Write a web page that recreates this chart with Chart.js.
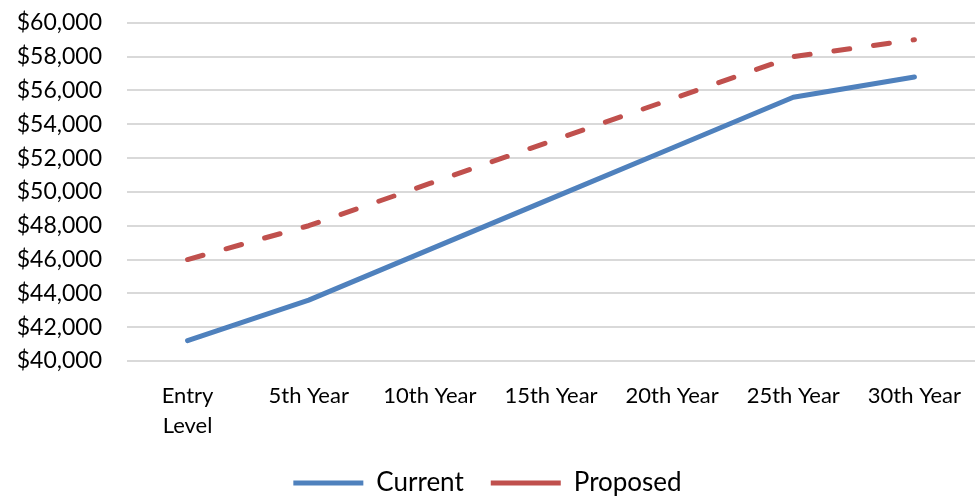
<!doctype html>
<html lang="en">
<head>
  <meta charset="utf-8">
  <title>Salary Schedule</title>
  <script src="https://cdn.jsdelivr.net/npm/chart.js@4.4.0/dist/chart.umd.min.js"></script>
  <style>
    html, body { margin: 0; padding: 0; background: #fff; }
    #wrap { width: 977px; height: 497px; }
  </style>
</head>
<body>
  <div id="wrap"><canvas id="salaryChart" width="977" height="497"></canvas></div>
  <script>
    const categories = [['Entry', 'Level'], '5th Year', '10th Year', '15th Year', '20th Year', '25th Year', '30th Year'];
    const current = [41200, 43600, 46600, 49600, 52600, 55600, 56800];
    const proposed = [46000, 48000, 50500, 53000, 55500, 58000, 59000];
    const yMin = 40000;
    const yMax = 60000;
    const yStep = 2000;

    const fontFamily = 'Lato, "Open Sans", sans-serif';

    const ctx = document.getElementById('salaryChart').getContext('2d');
    const salaryChart = new Chart(ctx, {
      type: 'line',
      data: {
        labels: categories,
        datasets: [{
          label: 'Current',
          data: current,
          borderColor: '#4F81BD',
          backgroundColor: '#4F81BD',
          borderWidth: 5,
          borderCapStyle: 'round',
          borderJoinStyle: 'round',
          pointRadius: 0,
          tension: 0,
        }, {
          label: 'Proposed',
          data: proposed,
          borderColor: '#C0504D',
          backgroundColor: '#C0504D',
          borderWidth: 5,
          borderDash: [16, 24],
          borderCapStyle: 'round',
          borderJoinStyle: 'round',
          pointRadius: 0,
          tension: 0,
        }],
      },
      options: {
        responsive: false,
        animation: false,
        layout: { padding: { top: 0, right: 2, bottom: 0, left: 0 } },
        plugins: {
          tooltip: { enabled: false },
          legend: {
            position: 'bottom',
            maxHeight: 54,
            labels: {
              color: '#000',
              font: { family: fontFamily, size: 26 },
              usePointStyle: true,
              pointStyle: 'line',
              pointStyleWidth: 70,
              boxHeight: 5,
              padding: 27,
            },
          },
        },
        scales: {
          x: {
            offset: true,
            grid: { display: false },
            border: { display: false },
            ticks: {
              color: '#000',
              font: { family: fontFamily, size: 22, lineHeight: 30 / 22 },
              padding: 12,
              maxRotation: 0,
              autoSkip: false,
            },
            afterFit: function(axis) { axis.height = 82; },
          },
          y: {
            min: yMin,
            max: yMax,
            grid: {
              color: '#d9d9d9',
              lineWidth: 2,
              drawTicks: true,
              tickLength: 16,
              tickColor: 'rgba(0,0,0,0)',
            },
            border: { display: false },
            ticks: {
              stepSize: yStep,
              color: '#000',
              font: { family: fontFamily, size: 23 },
              padding: 9,
              callback: function(value) {
                return '$' + value.toLocaleString('en-US');
              },
            },
            afterFit: function(axis) { axis.width = 127; },
          },
        },
      },
    });
  </script>
</body>
</html>
